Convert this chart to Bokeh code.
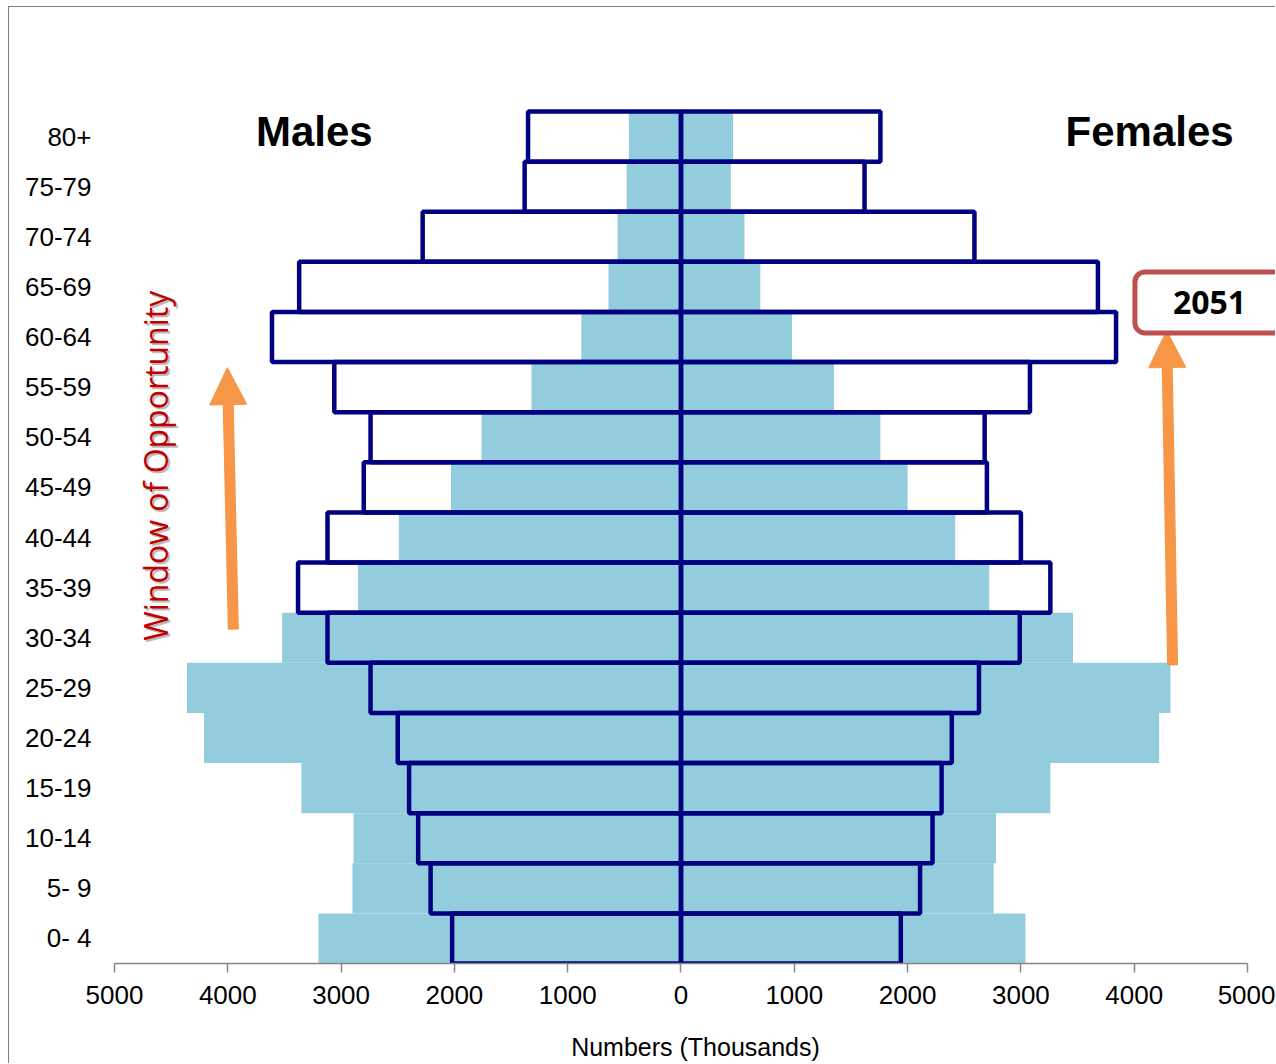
import math
from bokeh.plotting import figure
from bokeh.models import FixedTicker, Range1d, Arrow, NormalHead, Label, ColumnDataSource
from bokeh.core.properties import value
from bokeh.embed import file_html
from bokeh.resources import INLINE

# ---- data (thousands), bottom (0-4) to top (80+) ----
ages = ["0- 4", "5- 9", "10-14", "15-19", "20-24", "25-29", "30-34", "35-39",
        "40-44", "45-49", "50-54", "55-59", "60-64", "65-69", "70-74", "75-79", "80+"]
males_now = [3200, 2900, 2890, 3350, 4210, 4360, 3520, 2850,
             2490, 2030, 1760, 1320, 880, 640, 560, 480, 460]
females_now = [3040, 2760, 2780, 3260, 4220, 4320, 3460, 2720,
               2420, 2000, 1760, 1350, 980, 700, 560, 440, 460]
males_2051 = [2020, 2210, 2320, 2400, 2500, 2740, 3120, 3380,
              3120, 2800, 2740, 3060, 3610, 3370, 2280, 1380, 1350]
females_2051 = [1940, 2110, 2220, 2300, 2390, 2630, 2990, 3260,
                3000, 2700, 2680, 3080, 3840, 3680, 2590, 1620, 1760]
x_ticks = [-5000, -4000, -3000, -2000, -1000, 0, 1000, 2000, 3000, 4000, 5000]

pos = list(range(len(ages)))
src = ColumnDataSource(dict(
    y=pos,
    m_now=[-v for v in males_now], f_now=females_now,
    m_51=[-v for v in males_2051], f_51=females_2051,
))

LIGHT = "#93CDDD"
NAVY = "#000080"
ORANGE = "#F79646"
FONT = "Liberation Sans"

p = figure(width=1267, height=1057, output_backend="svg", toolbar_location=None,
           x_range=Range1d(-5000, 5256), y_range=Range1d(-0.5, 16.62),
           min_border_left=105, min_border_right=0, min_border_top=98,
           min_border_bottom=101,
           styles={"margin-left": "8px", "margin-top": "6px",
                   "border-left": "1px solid #808080", "border-top": "1px solid #808080"})
p.outline_line_color = None
p.grid.visible = False
p.background_fill_color = "white"
p.border_fill_color = "white"

# 2051 bars: white fill underneath
p.hbar(y="y", left="m_51", right=0, height=1.0, source=src, fill_color="white", line_color=None)
p.hbar(y="y", left=0, right="f_51", height=1.0, source=src, fill_color="white", line_color=None)
# current population: light blue
p.hbar(y="y", left="m_now", right=0, height=1.0, source=src, fill_color=LIGHT, line_color=None)
p.hbar(y="y", left=0, right="f_now", height=1.0, source=src, fill_color=LIGHT, line_color=None)
# 2051 outlines on top
p.hbar(y="y", left="m_51", right=0, height=1.0, source=src, fill_color=None,
       line_color=NAVY, line_width=4.5)
p.hbar(y="y", left=0, right="f_51", height=1.0, source=src, fill_color=None,
       line_color=NAVY, line_width=4.5)

# axes
xa = p.xaxis[0]
xa.ticker = FixedTicker(ticks=x_ticks)
xa.bounds = (-5000, 5000)
xa.major_label_overrides = {t: str(abs(t)) for t in x_ticks}
xa.axis_line_color = "#868686"
xa.axis_line_width = 1.5
xa.major_tick_line_color = "#868686"
xa.major_tick_line_width = 1.5
xa.major_tick_out = 9
xa.major_tick_in = 0
xa.minor_tick_line_color = None
xa.major_label_text_font = FONT
xa.major_label_text_font_size = "26px"
xa.major_label_text_color = "black"
xa.major_label_standoff = 13
xa.axis_label = "Numbers (Thousands)"
xa.axis_label_text_font = FONT
xa.axis_label_text_font_size = "25px"
xa.axis_label_text_font_style = "normal"
xa.axis_label_text_color = "black"
xa.axis_label_standoff = 26

ya = p.yaxis[0]
ya.ticker = FixedTicker(ticks=pos)
ya.major_label_overrides = {i: a for i, a in zip(pos, ages)}
ya.axis_line_color = None
ya.major_tick_line_color = None
ya.major_tick_out = 0
ya.major_tick_in = 0
ya.minor_tick_line_color = None
ya.major_label_text_font = FONT
ya.major_label_text_font_size = "26px"
ya.major_label_text_color = "black"
ya.major_label_standoff = 23

# titles
p.text(x=[-3236], y=[16.1], text=["Males"], text_font=value(FONT), text_font_size="42px",
       text_font_style="bold", text_align="center", text_baseline="middle", text_color="black")
p.text(x=[4136], y=[16.1], text=["Females"], text_font=value(FONT), text_font_size="42px",
       text_font_style="bold", text_align="center", text_baseline="middle", text_color="black")

# Window of Opportunity (with soft shadow)
p.text(x=[-4638], y=[9.43], text=["Window of Opportunity"], text_font=value("Open Sans"),
       text_font_size="32px", angle=math.pi / 2, text_align="center", text_baseline="middle",
       text_color="#7f7f7f", text_alpha=0.55, x_offset=2, y_offset=2)
p.text(x=[-4638], y=[9.43], text=["Window of Opportunity"], text_font=value("Open Sans"),
       text_font_size="32px", angle=math.pi / 2, text_align="center", text_baseline="middle",
       text_color="#C00000")

# arrows
p.add_layout(Arrow(x_start=-3951, y_start=6.16, x_end=-4004, y_end=11.39,
                   line_color=ORANGE, line_width=11,
                   end=NormalHead(size=37, fill_color=ORANGE, line_color=ORANGE)))
p.add_layout(Arrow(x_start=4339, y_start=5.45, x_end=4286, y_end=12.13,
                   line_color=ORANGE, line_width=11,
                   end=NormalHead(size=37, fill_color=ORANGE, line_color=ORANGE)))

# 2051 label box
p.add_layout(Label(x=4665, y=12.69, text="2051", text_font="Open Sans", text_font_size="32px",
                   text_font_style="bold", text_align="center", text_baseline="middle",
                   text_color="black", background_fill_color="white",
                   border_line_color="#C0504D", border_line_width=5,
                   padding=(38, 19), border_radius=10))

open("out.html", "w").write(file_html(p, INLINE))
